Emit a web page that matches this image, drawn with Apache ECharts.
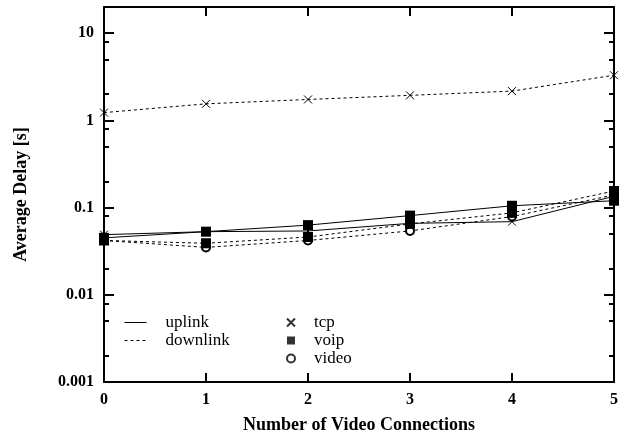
<!DOCTYPE html>
<html>
<head>
<meta charset="utf-8">
<script src="https://cdn.jsdelivr.net/npm/echarts@6/dist/echarts.min.js"></script>
<style>
html,body{margin:0;padding:0;background:#fff;}
#chart{width:626px;height:439px;}
</style>
</head>
<body>
<div id="chart"></div>
<script>
// number of video connections
var connections = [0, 1, 2, 3, 4, 5];
// average delay [s]
var tcpUp = [0.049, 0.053, 0.054, 0.066, 0.069, 0.135];
var tcpDown = [1.23, 1.55, 1.74, 1.94, 2.17, 3.3];
var voipUp = [0.045, 0.053, 0.063, 0.081, 0.105, 0.12];
var voipDown = [0.042, 0.039, 0.046, 0.065, 0.087, 0.155];
var videoDown = [0.042, 0.035, 0.042, 0.054, 0.079, 0.14];
// tick values on the log axis
var yMajor = [0.001, 0.01, 0.1, 1, 10];
var yMinor = [0.002, 0.005, 0.008, 0.02, 0.05, 0.08, 0.2, 0.5, 0.8, 2, 5, 8];

var FONT = 'Liberation Serif';
var CROSS = 'path://M0,0L10,10M10,0L0,10';

function pairs(ys) {
	var out = [];
	for (var i = 0; i < connections.length; i++) {
		out.push([connections[i], ys[i]]);
	}
	return out;
}

function lineSeries(name, ys, dashed, symbol, size) {
	var s = {
		name: name,
		type: 'line',
		data: pairs(ys),
		symbol: symbol,
		symbolSize: size,
		showSymbol: true,
		lineStyle: {color: '#000', width: 1, type: dashed ? [3, 3] : 'solid'},
		itemStyle: {color: '#000'},
		emphasis: {disabled: true}
	};
	if (symbol == CROSS) {
		s.itemStyle = {color: 'transparent', borderColor: '#000', borderWidth: 1};
	}
	if (symbol == 'emptyCircle') {
		s.itemStyle = {color: '#000', borderColor: '#000', borderWidth: 1};
	}
	return s;
}

// y axis: one for the major ticks, one for the minor ticks, on each side
function yAxisDef(pos, major) {
	return {
		type: 'log',
		logBase: 10,
		min: 0.001,
		max: 20,
		position: pos,
		splitLine: {show: false},
		axisLine: {show: major, lineStyle: {color: '#000', width: 2}},
		axisTick: {
			show: true,
			inside: true,
			length: major ? 10 : 5,
			lineStyle: {color: '#000', width: 2},
			customValues: major ? yMajor : yMinor
		},
		axisLabel: {
			show: major && pos == 'left',
			customValues: yMajor,
			color: '#000',
			fontFamily: FONT,
			fontSize: 16,
			fontWeight: 'bold',
			margin: 10,
			formatter: function(v) { return String(Number(Number(v).toPrecision(3))); }
		}
	};
}

function xAxisDef(pos) {
	return {
		type: 'value',
		min: 0,
		max: 5,
		interval: 1,
		position: pos,
		splitLine: {show: false},
		axisLine: {show: true, lineStyle: {color: '#000', width: 2}},
		axisTick: {show: true, inside: true, length: 9, lineStyle: {color: '#000', width: 2}},
		axisLabel: {
			show: pos == 'bottom',
			color: '#000',
			fontFamily: FONT,
			fontSize: 16,
			fontWeight: 'bold',
			margin: 10
		}
	};
}

var chart = echarts.init(document.getElementById('chart'), null, {renderer: 'canvas'});

var xBottom = xAxisDef('bottom');
xBottom.name = 'Number of Video Connections';
xBottom.nameLocation = 'middle';
xBottom.nameGap = 34;
xBottom.nameTextStyle = {color: '#000', fontFamily: FONT, fontSize: 18, fontWeight: 'bold'};

var yLeft = yAxisDef('left', true);
yLeft.name = 'Average Delay [s]';
yLeft.nameLocation = 'middle';
yLeft.nameGap = 74;
yLeft.nameTextStyle = {color: '#000', fontFamily: FONT, fontSize: 18, fontWeight: 'bold'};

var option = {
	animation: false,
	backgroundColor: '#fff',
	grid: {left: 104, right: 12, top: 7, bottom: 57, containLabel: false},
	xAxis: [xBottom, xAxisDef('top')],
	yAxis: [yLeft, yAxisDef('left', false), yAxisDef('right', true), yAxisDef('right', false)],
	legend: [
		{
			orient: 'vertical',
			left: 124,
			top: 314,
			padding: 0,
			itemWidth: 22,
			itemHeight: 10,
			itemGap: 1,
			lineStyle: {width: 1},
			data: [
				{name: 'uplink', itemStyle: {opacity: 0}, lineStyle: {width: 1}},
				{name: 'downlink', itemStyle: {opacity: 0}, lineStyle: {width: 1, type: [3, 3]}}
			],
			textStyle: {color: '#000', fontFamily: FONT, fontSize: 17, padding: [0, 0, 0, 14]},
			selectedMode: false
		},
		{
			orient: 'vertical',
			left: 286,
			top: 314,
			padding: 0,
			itemWidth: 8,
			itemHeight: 8,
			itemGap: 1,
			data: ['tcp', 'voip', 'video'],
			textStyle: {color: '#000', fontFamily: FONT, fontSize: 17, padding: [0, 0, 0, 14]},
			selectedMode: false
		}
	],
	series: [
		// legend entries only
		{name: 'uplink', type: 'line', data: [], symbol: 'none', lineStyle: {color: '#000', width: 1}, itemStyle: {color: '#000'}},
		{name: 'downlink', type: 'line', data: [], symbol: 'none', lineStyle: {color: '#000', width: 1, type: [3, 3]}, itemStyle: {color: '#000'}},
		{name: 'tcp', type: 'scatter', data: [], symbol: CROSS, itemStyle: {color: 'transparent', borderColor: '#000', borderWidth: 1}},
		{name: 'voip', type: 'scatter', data: [], symbol: 'rect', itemStyle: {color: '#000'}},
		{name: 'video', type: 'scatter', data: [], symbol: 'emptyCircle', itemStyle: {color: '#000', borderColor: '#000', borderWidth: 1}},
		// data
		lineSeries('tcp downlink', tcpDown, true, CROSS, 8),
		lineSeries('tcp uplink', tcpUp, false, CROSS, 8),
		lineSeries('video downlink', videoDown, true, 'emptyCircle', 8),
		lineSeries('voip downlink', voipDown, true, 'rect', 10),
		lineSeries('voip uplink', voipUp, false, 'rect', 10)
	]
};
chart.setOption(option);
</script>
</body>
</html>
